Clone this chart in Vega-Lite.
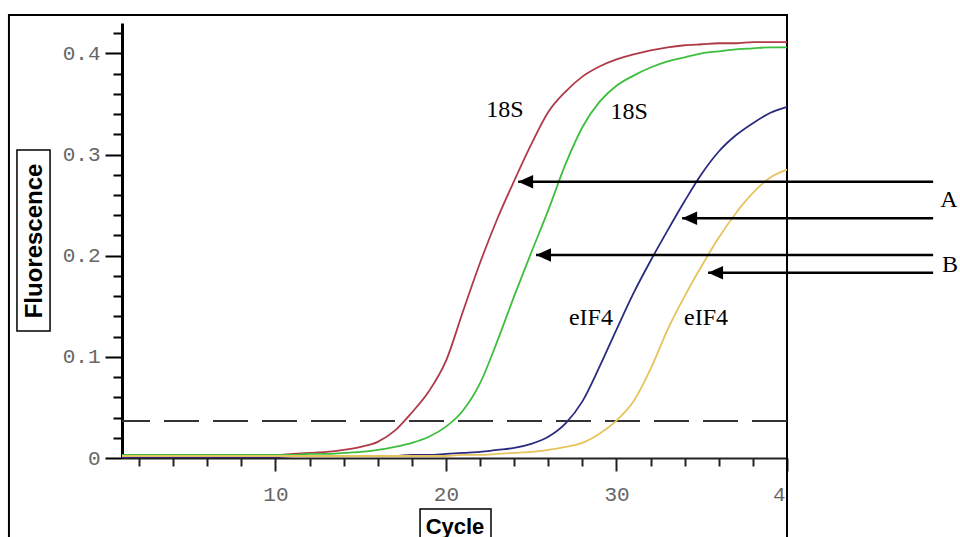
{
  "$schema": "https://vega.github.io/schema/vega-lite/v6.json",
  "width": 665,
  "height": 435,
  "autosize": {"type": "none"},
  "padding": {"left": 122, "top": 23, "right": 173, "bottom": 79},
  "background": "white",
  "config": {"view": {"stroke": null}},
  "data": {"values": [{}]},
  "datasets": {
    "curves": [
      {"cycle":1,"value":0.001,"sample":"A 18S"},{"cycle":2,"value":0.001,"sample":"A 18S"},{"cycle":3,"value":0.001,"sample":"A 18S"},{"cycle":4,"value":0.002,"sample":"A 18S"},{"cycle":5,"value":0.002,"sample":"A 18S"},{"cycle":6,"value":0.003,"sample":"A 18S"},{"cycle":7,"value":0.003,"sample":"A 18S"},{"cycle":8,"value":0.003,"sample":"A 18S"},{"cycle":9,"value":0.003,"sample":"A 18S"},{"cycle":10,"value":0.003,"sample":"A 18S"},
      {"cycle":11,"value":0.004,"sample":"A 18S"},{"cycle":12,"value":0.005,"sample":"A 18S"},{"cycle":13,"value":0.006,"sample":"A 18S"},{"cycle":14,"value":0.008,"sample":"A 18S"},{"cycle":15,"value":0.011,"sample":"A 18S"},{"cycle":16,"value":0.016,"sample":"A 18S"},{"cycle":17,"value":0.027,"sample":"A 18S"},{"cycle":18,"value":0.045,"sample":"A 18S"},{"cycle":19,"value":0.066,"sample":"A 18S"},{"cycle":20,"value":0.096,"sample":"A 18S"},
      {"cycle":21,"value":0.145,"sample":"A 18S"},{"cycle":22,"value":0.193,"sample":"A 18S"},{"cycle":23,"value":0.236,"sample":"A 18S"},{"cycle":24,"value":0.274,"sample":"A 18S"},{"cycle":25,"value":0.31,"sample":"A 18S"},{"cycle":26,"value":0.342,"sample":"A 18S"},{"cycle":27,"value":0.362,"sample":"A 18S"},{"cycle":28,"value":0.377,"sample":"A 18S"},{"cycle":29,"value":0.387,"sample":"A 18S"},{"cycle":30,"value":0.394,"sample":"A 18S"},
      {"cycle":31,"value":0.399,"sample":"A 18S"},{"cycle":32,"value":0.403,"sample":"A 18S"},{"cycle":33,"value":0.406,"sample":"A 18S"},{"cycle":34,"value":0.408,"sample":"A 18S"},{"cycle":35,"value":0.409,"sample":"A 18S"},{"cycle":36,"value":0.41,"sample":"A 18S"},{"cycle":37,"value":0.41,"sample":"A 18S"},{"cycle":38,"value":0.411,"sample":"A 18S"},{"cycle":39,"value":0.411,"sample":"A 18S"},{"cycle":40,"value":0.411,"sample":"A 18S"},

      {"cycle":1,"value":0.003,"sample":"B 18S"},{"cycle":2,"value":0.003,"sample":"B 18S"},{"cycle":3,"value":0.003,"sample":"B 18S"},{"cycle":4,"value":0.003,"sample":"B 18S"},{"cycle":5,"value":0.003,"sample":"B 18S"},{"cycle":6,"value":0.003,"sample":"B 18S"},{"cycle":7,"value":0.003,"sample":"B 18S"},{"cycle":8,"value":0.003,"sample":"B 18S"},{"cycle":9,"value":0.003,"sample":"B 18S"},{"cycle":10,"value":0.003,"sample":"B 18S"},
      {"cycle":11,"value":0.003,"sample":"B 18S"},{"cycle":12,"value":0.004,"sample":"B 18S"},{"cycle":13,"value":0.004,"sample":"B 18S"},{"cycle":14,"value":0.005,"sample":"B 18S"},{"cycle":15,"value":0.006,"sample":"B 18S"},{"cycle":16,"value":0.008,"sample":"B 18S"},{"cycle":17,"value":0.011,"sample":"B 18S"},{"cycle":18,"value":0.015,"sample":"B 18S"},{"cycle":19,"value":0.021,"sample":"B 18S"},{"cycle":20,"value":0.031,"sample":"B 18S"},
      {"cycle":21,"value":0.047,"sample":"B 18S"},{"cycle":22,"value":0.074,"sample":"B 18S"},{"cycle":23,"value":0.115,"sample":"B 18S"},{"cycle":24,"value":0.16,"sample":"B 18S"},{"cycle":25,"value":0.203,"sample":"B 18S"},{"cycle":26,"value":0.245,"sample":"B 18S"},{"cycle":27,"value":0.29,"sample":"B 18S"},{"cycle":28,"value":0.327,"sample":"B 18S"},{"cycle":29,"value":0.352,"sample":"B 18S"},{"cycle":30,"value":0.368,"sample":"B 18S"},
      {"cycle":31,"value":0.378,"sample":"B 18S"},{"cycle":32,"value":0.386,"sample":"B 18S"},{"cycle":33,"value":0.392,"sample":"B 18S"},{"cycle":34,"value":0.396,"sample":"B 18S"},{"cycle":35,"value":0.4,"sample":"B 18S"},{"cycle":36,"value":0.402,"sample":"B 18S"},{"cycle":37,"value":0.404,"sample":"B 18S"},{"cycle":38,"value":0.405,"sample":"B 18S"},{"cycle":39,"value":0.406,"sample":"B 18S"},{"cycle":40,"value":0.406,"sample":"B 18S"},

      {"cycle":1,"value":0.001,"sample":"A eIF4"},{"cycle":2,"value":0.001,"sample":"A eIF4"},{"cycle":3,"value":0.001,"sample":"A eIF4"},{"cycle":4,"value":0.001,"sample":"A eIF4"},{"cycle":5,"value":0.001,"sample":"A eIF4"},{"cycle":6,"value":0.001,"sample":"A eIF4"},{"cycle":7,"value":0.001,"sample":"A eIF4"},{"cycle":8,"value":0.001,"sample":"A eIF4"},{"cycle":9,"value":0.001,"sample":"A eIF4"},{"cycle":10,"value":0.001,"sample":"A eIF4"},
      {"cycle":11,"value":0.002,"sample":"A eIF4"},{"cycle":12,"value":0.002,"sample":"A eIF4"},{"cycle":13,"value":0.002,"sample":"A eIF4"},{"cycle":14,"value":0.002,"sample":"A eIF4"},{"cycle":15,"value":0.002,"sample":"A eIF4"},{"cycle":16,"value":0.002,"sample":"A eIF4"},{"cycle":17,"value":0.002,"sample":"A eIF4"},{"cycle":18,"value":0.003,"sample":"A eIF4"},{"cycle":19,"value":0.003,"sample":"A eIF4"},{"cycle":20,"value":0.004,"sample":"A eIF4"},
      {"cycle":21,"value":0.005,"sample":"A eIF4"},{"cycle":22,"value":0.006,"sample":"A eIF4"},{"cycle":23,"value":0.008,"sample":"A eIF4"},{"cycle":24,"value":0.01,"sample":"A eIF4"},{"cycle":25,"value":0.014,"sample":"A eIF4"},{"cycle":26,"value":0.021,"sample":"A eIF4"},{"cycle":27,"value":0.034,"sample":"A eIF4"},{"cycle":28,"value":0.056,"sample":"A eIF4"},{"cycle":29,"value":0.09,"sample":"A eIF4"},{"cycle":30,"value":0.127,"sample":"A eIF4"},
      {"cycle":31,"value":0.163,"sample":"A eIF4"},{"cycle":32,"value":0.195,"sample":"A eIF4"},{"cycle":33,"value":0.225,"sample":"A eIF4"},{"cycle":34,"value":0.254,"sample":"A eIF4"},{"cycle":35,"value":0.281,"sample":"A eIF4"},{"cycle":36,"value":0.303,"sample":"A eIF4"},{"cycle":37,"value":0.319,"sample":"A eIF4"},{"cycle":38,"value":0.331,"sample":"A eIF4"},{"cycle":39,"value":0.341,"sample":"A eIF4"},{"cycle":40,"value":0.347,"sample":"A eIF4"},

      {"cycle":1,"value":0.002,"sample":"B eIF4"},{"cycle":2,"value":0.002,"sample":"B eIF4"},{"cycle":3,"value":0.002,"sample":"B eIF4"},{"cycle":4,"value":0.002,"sample":"B eIF4"},{"cycle":5,"value":0.002,"sample":"B eIF4"},{"cycle":6,"value":0.002,"sample":"B eIF4"},{"cycle":7,"value":0.002,"sample":"B eIF4"},{"cycle":8,"value":0.002,"sample":"B eIF4"},{"cycle":9,"value":0.002,"sample":"B eIF4"},{"cycle":10,"value":0.002,"sample":"B eIF4"},
      {"cycle":11,"value":0.002,"sample":"B eIF4"},{"cycle":12,"value":0.002,"sample":"B eIF4"},{"cycle":13,"value":0.002,"sample":"B eIF4"},{"cycle":14,"value":0.002,"sample":"B eIF4"},{"cycle":15,"value":0.002,"sample":"B eIF4"},{"cycle":16,"value":0.002,"sample":"B eIF4"},{"cycle":17,"value":0.002,"sample":"B eIF4"},{"cycle":18,"value":0.002,"sample":"B eIF4"},{"cycle":19,"value":0.002,"sample":"B eIF4"},{"cycle":20,"value":0.002,"sample":"B eIF4"},
      {"cycle":21,"value":0.003,"sample":"B eIF4"},{"cycle":22,"value":0.003,"sample":"B eIF4"},{"cycle":23,"value":0.004,"sample":"B eIF4"},{"cycle":24,"value":0.005,"sample":"B eIF4"},{"cycle":25,"value":0.006,"sample":"B eIF4"},{"cycle":26,"value":0.008,"sample":"B eIF4"},{"cycle":27,"value":0.011,"sample":"B eIF4"},{"cycle":28,"value":0.015,"sample":"B eIF4"},{"cycle":29,"value":0.024,"sample":"B eIF4"},{"cycle":30,"value":0.037,"sample":"B eIF4"},
      {"cycle":31,"value":0.056,"sample":"B eIF4"},{"cycle":32,"value":0.088,"sample":"B eIF4"},{"cycle":33,"value":0.127,"sample":"B eIF4"},{"cycle":34,"value":0.16,"sample":"B eIF4"},{"cycle":35,"value":0.19,"sample":"B eIF4"},{"cycle":36,"value":0.218,"sample":"B eIF4"},{"cycle":37,"value":0.242,"sample":"B eIF4"},{"cycle":38,"value":0.262,"sample":"B eIF4"},{"cycle":39,"value":0.277,"sample":"B eIF4"},{"cycle":40,"value":0.285,"sample":"B eIF4"}
    ],
    "arrows": [
      {"tip": 24.23, "end": 48.57, "value": 0.273},
      {"tip": 33.85, "end": 48.57, "value": 0.237},
      {"tip": 25.28, "end": 48.57, "value": 0.2007},
      {"tip": 35.37, "end": 48.57, "value": 0.183}
    ],
    "labels": [
      {"text": "18S", "cycle": 23.46, "value": 0.344},
      {"text": "18S", "cycle": 30.74, "value": 0.342},
      {"text": "eIF4", "cycle": 28.5, "value": 0.138},
      {"text": "eIF4", "cycle": 35.25, "value": 0.138},
      {"text": "A", "cycle": 49.5, "value": 0.255},
      {"text": "B", "cycle": 49.56, "value": 0.191}
    ]
  },
  "layer": [
    {
      "mark": {"type": "rect", "filled": false, "color": "black", "strokeWidth": 2},
      "encoding": {
        "x": {"datum": -5.63, "type": "quantitative", "scale": {"domain": [1, 40], "nice": false, "zero": false}},
        "x2": {"datum": 40.0},
        "y": {"datum": 0.438, "type": "quantitative", "scale": {"domain": [0, 0.43], "nice": false, "zero": false}},
        "y2": {"datum": -0.1}
      }
    },
    {
      "mark": {"type": "rect", "filled": false, "color": "black", "strokeWidth": 1.5},
      "encoding": {
        "x": {"datum": -5.16, "type": "quantitative"},
        "x2": {"datum": -3.22},
        "y": {"datum": 0.3045, "type": "quantitative"},
        "y2": {"datum": 0.1255}
      }
    },
    {
      "mark": {"type": "rect", "filled": false, "color": "black", "strokeWidth": 1.5},
      "encoding": {
        "x": {"datum": 18.48, "type": "quantitative"},
        "x2": {"datum": 22.64},
        "y": {"datum": -0.0504, "type": "quantitative"},
        "y2": {"datum": -0.1}
      }
    },
    {
      "mark": {"type": "rule", "color": "#333333", "strokeWidth": 2, "strokeDash": [35, 14]},
      "encoding": {"y": {"datum": 0.0366, "type": "quantitative"}}
    },
    {
      "data": {"name": "curves"},
      "mark": {"type": "line", "strokeWidth": 1.8, "interpolate": "monotone"},
      "encoding": {
        "x": {
          "field": "cycle", "type": "quantitative",
          "axis": {
            "values": [2,4,6,8,10,12,14,16,18,20,22,24,26,28,30,32,34,36,38,40],
            "tickCount": 100,
            "tickSize": {"condition": {"test": "datum.value % 10 === 0", "value": 13}, "value": 8},
            "labelExpr": "datum.value % 10 === 0 ? (datum.value === 40 ? '4' : format(datum.value, 'd')) : ''",
            "labelAlign": {"condition": {"test": "datum.value === 40", "value": "right"}, "value": "center"},
            "labelOffset": {"condition": {"test": "datum.value === 40", "value": -2}, "value": 0},
            "labelFont": "Liberation Mono", "labelFontSize": 21, "labelColor": "#666666",
            "labelPadding": 12, "labelOverlap": false, "labelFlush": false,
            "domainColor": "#222222", "domainWidth": 2, "tickColor": "#222222", "tickWidth": 2,
            "grid": false,
            "title": "Cycle", "titleFont": "Liberation Sans", "titleFontWeight": "bold", "titleFontSize": 22,
            "titleColor": "black", "titleY": 75, "titleBaseline": "alphabetic"
          }
        },
        "y": {
          "field": "value", "type": "quantitative",
          "axis": {
            "values": [0,0.02,0.04,0.06,0.08,0.1,0.12,0.14,0.16,0.18,0.2,0.22,0.24,0.26,0.28,0.3,0.32,0.34,0.36,0.38,0.4,0.42],
            "tickCount": 100,
            "tickSize": {"condition": {"test": "abs(datum.value*10 - round(datum.value*10)) < 0.001", "value": 17}, "value": 9},
            "labelExpr": "abs(datum.value*10 - round(datum.value*10)) < 0.001 ? (datum.value == 0 ? '0' : format(datum.value, '.1f')) : ''",
            "labelFont": "Liberation Mono", "labelFontSize": 21, "labelColor": "#666666",
            "labelPadding": 5, "labelOverlap": false, "labelFlush": false,
            "domainColor": "black", "domainWidth": 3, "tickColor": "black", "tickWidth": 2,
            "grid": false,
            "title": "Fluorescence", "titleFont": "Liberation Sans", "titleFontWeight": "bold", "titleFontSize": 24,
            "titleColor": "black", "titleX": -81, "titleBaseline": "alphabetic"
          }
        },
        "color": {
          "field": "sample", "type": "nominal", "legend": null,
          "scale": {"domain": ["A 18S", "B 18S", "A eIF4", "B eIF4"], "range": ["#b03a48", "#3dbf3d", "#2b2b80", "#e6c35c"]}
        },
        "detail": {"field": "sample"}
      }
    },
    {
      "data": {"name": "arrows"},
      "mark": {"type": "rule", "color": "black", "strokeWidth": 2.5},
      "encoding": {
        "x": {"field": "tip", "type": "quantitative"},
        "x2": {"field": "end"},
        "y": {"field": "value", "type": "quantitative"}
      }
    },
    {
      "data": {"name": "arrows"},
      "mark": {"type": "point", "shape": "M0,0L1,-0.45L1,0.45Z", "size": 900, "filled": true, "color": "black", "opacity": 1, "strokeWidth": 0},
      "encoding": {
        "x": {"field": "tip", "type": "quantitative"},
        "y": {"field": "value", "type": "quantitative"}
      }
    },
    {
      "data": {"name": "labels"},
      "mark": {"type": "text", "font": "Liberation Serif", "fontSize": 24, "color": "black", "align": "center", "baseline": "middle"},
      "encoding": {
        "x": {"field": "cycle", "type": "quantitative"},
        "y": {"field": "value", "type": "quantitative"},
        "text": {"field": "text"}
      }
    }
  ]
}
